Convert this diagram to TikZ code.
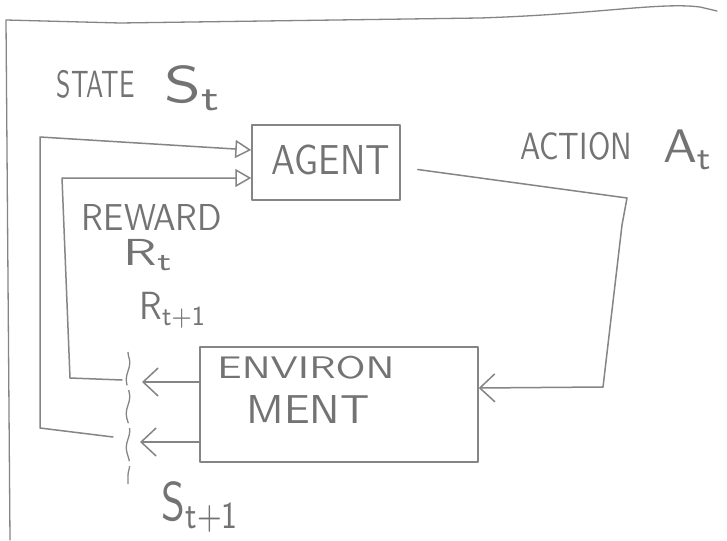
\documentclass[tikz,border=0pt]{standalone}
\usepackage{graphicx}
\usetikzlibrary{arrows.meta,decorations.pathmorphing,calc}

% hand-lettered label squeezed into a given width and height
\newcommand{\handtext}[3]{\resizebox*{#1}{#2}{\sffamily #3}}

\definecolor{pencil}{gray}{0.52}
\definecolor{pencilink}{gray}{0.45}

\tikzset{
  sketch/.style={draw=pencil, line width=1.5pt, line cap=round, line join=round},
  boxnode/.style={sketch, rectangle, inner sep=0pt},
  lbl/.style={inner sep=0pt, text=pencilink},
  intip/.style={-{Triangle[open, length=16pt, width=18pt, line width=1.5pt]}},
  outtip/.style={-{Straight Barb[length=15pt, width=28pt, line width=1.5pt]}},
  separator/.style={draw=pencil, line width=1.3pt,
    decorate, decoration={snake, amplitude=1.8pt, segment length=34pt},
    dash pattern=on 34pt off 5pt}
}

\begin{document}
\begin{tikzpicture}[x=1pt, y=-1pt]
  \useasboundingbox (0,0) rectangle (727,540);
  \fill[white] (0,0) rectangle (727,540);

  % page frame
  \draw[sketch, line width=1.3pt] (10,540) -- (6,20) -- (120,23) -- (480,18)
    .. controls (600,14) and (660,2) .. (700,7) -- (717,11);

  % the two blocks
  \node[boxnode, minimum width=148pt, minimum height=75pt] (agent) at (326,162.5) {};
  \node[boxnode, minimum width=278pt, minimum height=115pt] (env) at (339,404.5) {};

  % labels
  \node[lbl] (lstate) at (96,84) {\handtext{78pt}{28pt}{STATE}};
  \node[lbl] (lst) at (194,88) {\handtext{58pt}{45pt}{S\textsubscript{t}}};
  \node[lbl] (laction) at (576,146) {\handtext{112pt}{28pt}{ACTION}};
  \node[lbl] (lat) at (688,150) {\handtext{50pt}{40pt}{A\textsubscript{t}}};
  \node[lbl] (lagent) at (331,160) {\handtext{118pt}{30pt}{AGENT}};
  \node[lbl] (lreward) at (152,217) {\handtext{140pt}{26pt}{REWARD}};
  \node[lbl] (lrt) at (149,255) {\handtext{50pt}{32pt}{R\textsubscript{t}}};
  \node[lbl] (lrt1) at (173,310) {\handtext{67pt}{36pt}{R\textsubscript{t+1}}};
  \node[lbl] (lenv1) at (306,368) {\handtext{177pt}{23pt}{ENVIRON}};
  \node[lbl] (lenv2) at (308,409) {\handtext{123pt}{28pt}{MENT}};
  \node[lbl] (lst1) at (201,507) {\handtext{78pt}{51pt}{S\textsubscript{t+1}}};

  % free ends next to the time-step boundary
  \coordinate (sfree) at (113,437);
  \coordinate (rfree) at (122,380);
  \coordinate (rout) at (142,382);
  \coordinate (sout) at (140,442);
  \coordinate (wtop) at (128,352);
  \coordinate (wbot) at (128,484);

  % state fed back to the agent
  \draw[sketch, intip] (sfree) -- (40,428) -- (40,137) -- (agent.west |- 0,150);
  % reward fed back to the agent
  \draw[sketch, intip] (rfree) -- (70,378) -- (62,178) -- (agent.west |- 0,178);
  % action from the agent into the environment
  \draw[sketch, outtip] ($(agent.east)+(17,7)$) -- (627,198) -- (622,225)
    -- (603,387) -- (env.east |- 0,388);
  % environment outputs: next reward and next state
  \draw[sketch, outtip] (env.west |- rout) -- (rout);
  \draw[sketch, outtip] (env.west |- sout) -- (sout);

  % boundary between time steps
  \draw[separator] (wtop) -- (wbot);
\end{tikzpicture}
\end{document}
